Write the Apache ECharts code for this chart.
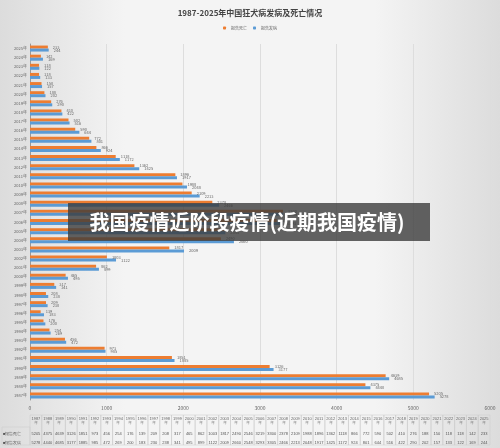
<!DOCTYPE html><html><head><meta charset="utf-8"><script src="https://cdn.jsdelivr.net/npm/echarts@6/dist/echarts.min.js"></script>
<style>body{margin:0}#c{width:500px;height:448px;background:linear-gradient(90deg,#dcdcdc,#f4f4f4 25%,#f4f4f4 75%,#dcdcdc)}</style></head><body><div id="c"></div><script>
const years=[];for(let y=1987;y<=2025;y++)years.push(y+'年');
const deaths=[5205,4375,4639,3126,1851,973,456,254,176,139,209,208,317,465,862,1003,1817,2490,2546,3219,3300,2378,2109,1988,1896,1362,1118,866,772,590,502,410,276,188,150,118,118,142,233];
const cases=[5278,4440,4685,3177,1885,985,472,269,200,183,230,238,341,495,899,1122,2009,2660,2548,3293,3305,2466,2213,2048,1917,1425,1172,924,801,644,516,422,290,202,157,133,122,169,244];
const xTicks=[0,1000,2000,3000,4000,5000,6000];
const L=30,R=490,TB=415;
const g=[];const cw=(R-L)/years.length;
years.forEach((y,i)=>{const x=L+cw*i;
 g.push({type:'rect',shape:{x:x,y:TB,width:cw,height:30},style:{fill:'none',stroke:'#c8c8c8',lineWidth:0.5}});
 g.push({type:'text',x:x+cw/2,y:TB+2,style:{text:y.replace('年','\n年'),fontSize:4,fill:'#666',align:'center'}});
 g.push({type:'text',x:x+cw/2,y:TB+17,style:{text:String(deaths[i]),fontSize:4,fill:'#555',align:'center'}});
 g.push({type:'text',x:x+cw/2,y:TB+26,style:{text:String(cases[i]),fontSize:4,fill:'#555',align:'center'}});
});
g.push({type:'rect',shape:{x:2,y:TB+12,width:28,height:18},style:{fill:'none',stroke:'#c8c8c8',lineWidth:0.5}});
g.push({type:'text',x:3,y:TB+17,style:{text:'■报告死亡',fontSize:4,fill:'#555'}});
g.push({type:'text',x:3,y:TB+26,style:{text:'■报告发病',fontSize:4,fill:'#555'}});
g.push({type:'rect',z:100,shape:{x:68,y:203,width:362,height:38},style:{fill:'rgba(60,60,60,0.8)'}});
g.push({type:'text',z:101,x:247,y:222,style:{text:'我国疫情近阶段疫情(近期我国疫情)',fontSize:20,fontWeight:'bold',fill:'#fff',align:'center',verticalAlign:'middle',fontFamily:'Noto Sans CJK SC'}});
const ch=echarts.init(document.getElementById('c'));
const lab={show:true,position:'right',fontSize:4,color:'#666'};
ch.setOption({textStyle:{fontFamily:'Noto Sans CJK SC'},
title:{text:'1987-2025年中国狂犬病发病及死亡情况',left:'center',top:4,textStyle:{fontSize:8,fontWeight:'bold',color:'#444'}},
legend:{data:['报告死亡','报告发病'],top:21,itemWidth:3,itemHeight:3,itemGap:6,textStyle:{fontSize:4,color:'#666'}},
grid:{left:L,right:500-R,top:44,bottom:448-400},
xAxis:{type:'value',min:0,max:6000,interval:1000,axisLabel:{fontSize:5,color:'#666',margin:6,formatter:v=>String(v)},splitLine:{lineStyle:{color:'#ddd'}}},
yAxis:{type:'category',data:years,axisLabel:{fontSize:4,color:'#666',margin:3},axisTick:{show:false},axisLine:{lineStyle:{color:'#999'}}},
series:[{name:'报告死亡',type:'bar',data:deaths,barWidth:3,barGap:'0%',itemStyle:{color:'#ED7D31'},label:lab},
{name:'报告发病',type:'bar',data:cases,barWidth:3,itemStyle:{color:'#5B9BD5'},label:lab}],
graphic:g});
</script></body></html>
